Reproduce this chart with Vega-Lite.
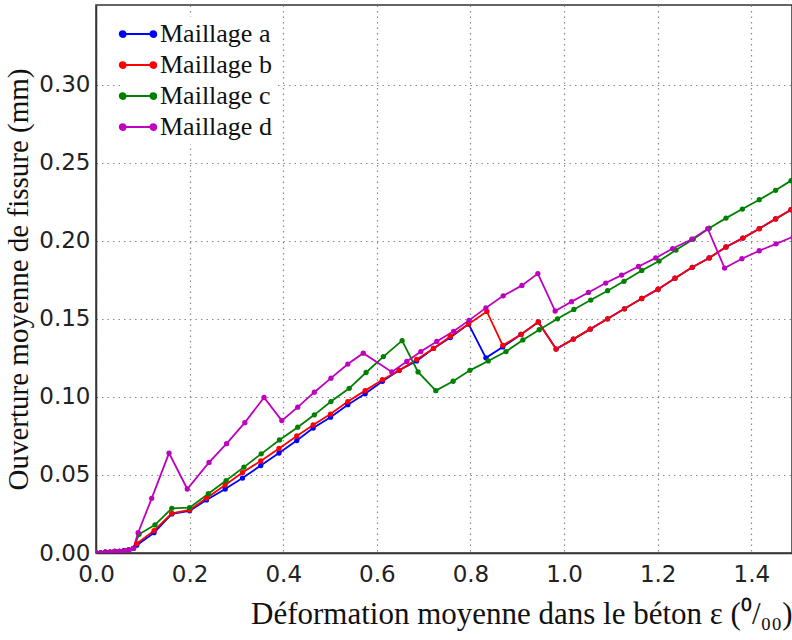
{
  "$schema": "https://vega.github.io/schema/vega-lite/v6.json",
  "width": 696,
  "height": 548,
  "autosize": {"type": "none"},
  "padding": {"left": 96, "top": 5, "right": 0, "bottom": 87},
  "background": "white",
  "config": {
    "view": {"stroke": "#333333", "strokeWidth": 1.5},
    "axis": {
      "labelFont": "DejaVu Sans",
      "labelFontSize": 23,
      "labelColor": "#222222",
      "labelFlush": false,
      "titleFont": "Liberation Serif",
      "titleFontWeight": "normal",
      "titleColor": "#111111",
      "grid": true,
      "gridColor": "#888888",
      "gridDash": [1.5, 4],
      "gridWidth": 1.2,
      "domainColor": "#333333",
      "domainWidth": 1.5,
      "ticks": false
    }
  },
  "data": {
    "values": [
      {"s": "Maillage a", "x": 0.0, "y": 0.0},
      {"s": "Maillage a", "x": 0.01, "y": 0.0},
      {"s": "Maillage a", "x": 0.02, "y": 0.0005},
      {"s": "Maillage a", "x": 0.03, "y": 0.0005},
      {"s": "Maillage a", "x": 0.04, "y": 0.001},
      {"s": "Maillage a", "x": 0.05, "y": 0.001},
      {"s": "Maillage a", "x": 0.06, "y": 0.0015},
      {"s": "Maillage a", "x": 0.07, "y": 0.002},
      {"s": "Maillage a", "x": 0.08, "y": 0.003},
      {"s": "Maillage a", "x": 0.087, "y": 0.005},
      {"s": "Maillage a", "x": 0.124, "y": 0.013},
      {"s": "Maillage a", "x": 0.162, "y": 0.025},
      {"s": "Maillage a", "x": 0.2, "y": 0.027},
      {"s": "Maillage a", "x": 0.236, "y": 0.034},
      {"s": "Maillage a", "x": 0.276, "y": 0.041},
      {"s": "Maillage a", "x": 0.313, "y": 0.048},
      {"s": "Maillage a", "x": 0.352, "y": 0.056},
      {"s": "Maillage a", "x": 0.391, "y": 0.064},
      {"s": "Maillage a", "x": 0.429, "y": 0.072},
      {"s": "Maillage a", "x": 0.464, "y": 0.08},
      {"s": "Maillage a", "x": 0.501, "y": 0.087},
      {"s": "Maillage a", "x": 0.538, "y": 0.095},
      {"s": "Maillage a", "x": 0.575, "y": 0.102},
      {"s": "Maillage a", "x": 0.612, "y": 0.11},
      {"s": "Maillage a", "x": 0.648, "y": 0.117},
      {"s": "Maillage a", "x": 0.685, "y": 0.123},
      {"s": "Maillage a", "x": 0.721, "y": 0.131},
      {"s": "Maillage a", "x": 0.757, "y": 0.138},
      {"s": "Maillage a", "x": 0.796, "y": 0.1466},
      {"s": "Maillage a", "x": 0.833, "y": 0.125},
      {"s": "Maillage a", "x": 0.869, "y": 0.132},
      {"s": "Maillage a", "x": 0.908, "y": 0.14},
      {"s": "Maillage a", "x": 0.945, "y": 0.148},
      {"s": "Maillage a", "x": 0.983, "y": 0.1306},
      {"s": "Maillage a", "x": 1.02, "y": 0.137},
      {"s": "Maillage a", "x": 1.056, "y": 0.1434},
      {"s": "Maillage a", "x": 1.093, "y": 0.15},
      {"s": "Maillage a", "x": 1.129, "y": 0.1564},
      {"s": "Maillage a", "x": 1.166, "y": 0.163},
      {"s": "Maillage a", "x": 1.201, "y": 0.169},
      {"s": "Maillage a", "x": 1.237, "y": 0.176},
      {"s": "Maillage a", "x": 1.274, "y": 0.183},
      {"s": "Maillage a", "x": 1.31, "y": 0.189},
      {"s": "Maillage a", "x": 1.346, "y": 0.196},
      {"s": "Maillage a", "x": 1.382, "y": 0.2017},
      {"s": "Maillage a", "x": 1.417, "y": 0.2077},
      {"s": "Maillage a", "x": 1.452, "y": 0.214},
      {"s": "Maillage a", "x": 1.485, "y": 0.2199},
      {"s": "Maillage a", "x": 1.52, "y": 0.226},
      {"s": "Maillage b", "x": 0.0, "y": 0.0},
      {"s": "Maillage b", "x": 0.01, "y": 0.0},
      {"s": "Maillage b", "x": 0.02, "y": 0.0005},
      {"s": "Maillage b", "x": 0.03, "y": 0.0005},
      {"s": "Maillage b", "x": 0.04, "y": 0.001},
      {"s": "Maillage b", "x": 0.05, "y": 0.001},
      {"s": "Maillage b", "x": 0.06, "y": 0.0015},
      {"s": "Maillage b", "x": 0.07, "y": 0.002},
      {"s": "Maillage b", "x": 0.08, "y": 0.003},
      {"s": "Maillage b", "x": 0.087, "y": 0.006},
      {"s": "Maillage b", "x": 0.124, "y": 0.0143},
      {"s": "Maillage b", "x": 0.162, "y": 0.0254},
      {"s": "Maillage b", "x": 0.2, "y": 0.0276},
      {"s": "Maillage b", "x": 0.236, "y": 0.035},
      {"s": "Maillage b", "x": 0.276, "y": 0.0436},
      {"s": "Maillage b", "x": 0.313, "y": 0.0515},
      {"s": "Maillage b", "x": 0.352, "y": 0.059},
      {"s": "Maillage b", "x": 0.391, "y": 0.067},
      {"s": "Maillage b", "x": 0.429, "y": 0.075},
      {"s": "Maillage b", "x": 0.464, "y": 0.082},
      {"s": "Maillage b", "x": 0.501, "y": 0.089},
      {"s": "Maillage b", "x": 0.538, "y": 0.097},
      {"s": "Maillage b", "x": 0.575, "y": 0.104},
      {"s": "Maillage b", "x": 0.612, "y": 0.111},
      {"s": "Maillage b", "x": 0.648, "y": 0.117},
      {"s": "Maillage b", "x": 0.685, "y": 0.124},
      {"s": "Maillage b", "x": 0.721, "y": 0.131},
      {"s": "Maillage b", "x": 0.757, "y": 0.1387},
      {"s": "Maillage b", "x": 0.796, "y": 0.1466},
      {"s": "Maillage b", "x": 0.835, "y": 0.1547},
      {"s": "Maillage b", "x": 0.869, "y": 0.133},
      {"s": "Maillage b", "x": 0.908, "y": 0.14},
      {"s": "Maillage b", "x": 0.945, "y": 0.148},
      {"s": "Maillage b", "x": 0.983, "y": 0.1306},
      {"s": "Maillage b", "x": 1.02, "y": 0.137},
      {"s": "Maillage b", "x": 1.056, "y": 0.1434},
      {"s": "Maillage b", "x": 1.093, "y": 0.15},
      {"s": "Maillage b", "x": 1.129, "y": 0.1564},
      {"s": "Maillage b", "x": 1.166, "y": 0.163},
      {"s": "Maillage b", "x": 1.201, "y": 0.169},
      {"s": "Maillage b", "x": 1.237, "y": 0.176},
      {"s": "Maillage b", "x": 1.274, "y": 0.183},
      {"s": "Maillage b", "x": 1.31, "y": 0.189},
      {"s": "Maillage b", "x": 1.346, "y": 0.196},
      {"s": "Maillage b", "x": 1.382, "y": 0.2017},
      {"s": "Maillage b", "x": 1.417, "y": 0.2077},
      {"s": "Maillage b", "x": 1.452, "y": 0.214},
      {"s": "Maillage b", "x": 1.485, "y": 0.2199},
      {"s": "Maillage b", "x": 1.52, "y": 0.226},
      {"s": "Maillage c", "x": 0.0, "y": 0.0},
      {"s": "Maillage c", "x": 0.01, "y": 0.0},
      {"s": "Maillage c", "x": 0.02, "y": 0.0005},
      {"s": "Maillage c", "x": 0.03, "y": 0.0005},
      {"s": "Maillage c", "x": 0.04, "y": 0.001},
      {"s": "Maillage c", "x": 0.05, "y": 0.001},
      {"s": "Maillage c", "x": 0.06, "y": 0.0015},
      {"s": "Maillage c", "x": 0.07, "y": 0.002},
      {"s": "Maillage c", "x": 0.08, "y": 0.003},
      {"s": "Maillage c", "x": 0.092, "y": 0.012},
      {"s": "Maillage c", "x": 0.126, "y": 0.018},
      {"s": "Maillage c", "x": 0.162, "y": 0.0286},
      {"s": "Maillage c", "x": 0.2, "y": 0.029},
      {"s": "Maillage c", "x": 0.24, "y": 0.038},
      {"s": "Maillage c", "x": 0.278, "y": 0.0464},
      {"s": "Maillage c", "x": 0.316, "y": 0.055},
      {"s": "Maillage c", "x": 0.353, "y": 0.0635},
      {"s": "Maillage c", "x": 0.392, "y": 0.0724},
      {"s": "Maillage c", "x": 0.431, "y": 0.0806},
      {"s": "Maillage c", "x": 0.4665, "y": 0.0885},
      {"s": "Maillage c", "x": 0.502, "y": 0.097},
      {"s": "Maillage c", "x": 0.541, "y": 0.1055},
      {"s": "Maillage c", "x": 0.577, "y": 0.1156},
      {"s": "Maillage c", "x": 0.614, "y": 0.1258},
      {"s": "Maillage c", "x": 0.654, "y": 0.136},
      {"s": "Maillage c", "x": 0.688, "y": 0.116},
      {"s": "Maillage c", "x": 0.726, "y": 0.104},
      {"s": "Maillage c", "x": 0.763, "y": 0.11},
      {"s": "Maillage c", "x": 0.799, "y": 0.117},
      {"s": "Maillage c", "x": 0.838, "y": 0.123},
      {"s": "Maillage c", "x": 0.876, "y": 0.129},
      {"s": "Maillage c", "x": 0.912, "y": 0.1365},
      {"s": "Maillage c", "x": 0.947, "y": 0.143},
      {"s": "Maillage c", "x": 0.986, "y": 0.15},
      {"s": "Maillage c", "x": 1.021, "y": 0.156},
      {"s": "Maillage c", "x": 1.057, "y": 0.162},
      {"s": "Maillage c", "x": 1.093, "y": 0.168},
      {"s": "Maillage c", "x": 1.128, "y": 0.174},
      {"s": "Maillage c", "x": 1.166, "y": 0.181},
      {"s": "Maillage c", "x": 1.203, "y": 0.187},
      {"s": "Maillage c", "x": 1.239, "y": 0.194},
      {"s": "Maillage c", "x": 1.276, "y": 0.201},
      {"s": "Maillage c", "x": 1.31, "y": 0.208},
      {"s": "Maillage c", "x": 1.346, "y": 0.2145},
      {"s": "Maillage c", "x": 1.381, "y": 0.2203},
      {"s": "Maillage c", "x": 1.417, "y": 0.2263},
      {"s": "Maillage c", "x": 1.452, "y": 0.2323},
      {"s": "Maillage c", "x": 1.485, "y": 0.2385},
      {"s": "Maillage c", "x": 1.52, "y": 0.244},
      {"s": "Maillage d", "x": 0.0, "y": 0.0},
      {"s": "Maillage d", "x": 0.01, "y": 0.0},
      {"s": "Maillage d", "x": 0.02, "y": 0.0005},
      {"s": "Maillage d", "x": 0.03, "y": 0.0005},
      {"s": "Maillage d", "x": 0.04, "y": 0.001},
      {"s": "Maillage d", "x": 0.05, "y": 0.001},
      {"s": "Maillage d", "x": 0.06, "y": 0.0015},
      {"s": "Maillage d", "x": 0.07, "y": 0.002},
      {"s": "Maillage d", "x": 0.08, "y": 0.003},
      {"s": "Maillage d", "x": 0.09, "y": 0.013},
      {"s": "Maillage d", "x": 0.119, "y": 0.035},
      {"s": "Maillage d", "x": 0.156, "y": 0.064},
      {"s": "Maillage d", "x": 0.195, "y": 0.041},
      {"s": "Maillage d", "x": 0.2415, "y": 0.058},
      {"s": "Maillage d", "x": 0.279, "y": 0.07},
      {"s": "Maillage d", "x": 0.318, "y": 0.0835},
      {"s": "Maillage d", "x": 0.359, "y": 0.0996},
      {"s": "Maillage d", "x": 0.397, "y": 0.0848},
      {"s": "Maillage d", "x": 0.431, "y": 0.0934},
      {"s": "Maillage d", "x": 0.4665, "y": 0.103},
      {"s": "Maillage d", "x": 0.502, "y": 0.112},
      {"s": "Maillage d", "x": 0.538, "y": 0.121},
      {"s": "Maillage d", "x": 0.571, "y": 0.128},
      {"s": "Maillage d", "x": 0.632, "y": 0.116},
      {"s": "Maillage d", "x": 0.664, "y": 0.1227},
      {"s": "Maillage d", "x": 0.694, "y": 0.129},
      {"s": "Maillage d", "x": 0.728, "y": 0.1355},
      {"s": "Maillage d", "x": 0.764, "y": 0.142},
      {"s": "Maillage d", "x": 0.797, "y": 0.149},
      {"s": "Maillage d", "x": 0.833, "y": 0.157},
      {"s": "Maillage d", "x": 0.87, "y": 0.1647},
      {"s": "Maillage d", "x": 0.91, "y": 0.1714},
      {"s": "Maillage d", "x": 0.944, "y": 0.179},
      {"s": "Maillage d", "x": 0.981, "y": 0.155},
      {"s": "Maillage d", "x": 1.016, "y": 0.161},
      {"s": "Maillage d", "x": 1.052, "y": 0.1669},
      {"s": "Maillage d", "x": 1.089, "y": 0.1729},
      {"s": "Maillage d", "x": 1.123, "y": 0.178},
      {"s": "Maillage d", "x": 1.159, "y": 0.1835},
      {"s": "Maillage d", "x": 1.196, "y": 0.189},
      {"s": "Maillage d", "x": 1.232, "y": 0.195},
      {"s": "Maillage d", "x": 1.273, "y": 0.201},
      {"s": "Maillage d", "x": 1.307, "y": 0.2077},
      {"s": "Maillage d", "x": 1.343, "y": 0.1825},
      {"s": "Maillage d", "x": 1.38, "y": 0.1885},
      {"s": "Maillage d", "x": 1.417, "y": 0.1936},
      {"s": "Maillage d", "x": 1.453, "y": 0.198},
      {"s": "Maillage d", "x": 1.49, "y": 0.2027}
    ]
  },
  "mark": {"type": "line", "strokeWidth": 1.8, "clip": true, "point": {"filled": true, "size": 28}},
  "encoding": {
    "x": {
      "field": "x",
      "type": "quantitative",
      "scale": {"domain": [0, 1.487], "nice": false, "zero": false},
      "axis": {
        "values": [0, 0.2, 0.4, 0.6, 0.8, 1.0, 1.2, 1.4],
        "format": ".1f",
        "labelPadding": 10,
        "title": "Déformation moyenne dans le béton ε (⁰/₀₀)",
        "titleFontSize": 31,
        "titleAnchor": "end",
        "titlePadding": 13
      }
    },
    "y": {
      "field": "y",
      "type": "quantitative",
      "scale": {"domain": [0, 0.351], "nice": false},
      "axis": {
        "values": [0, 0.05, 0.1, 0.15, 0.2, 0.25, 0.3],
        "format": ".2f",
        "labelPadding": 6,
        "title": "Ouverture moyenne de fissure (mm)",
        "titleFontSize": 29,
        "titlePadding": 5
      }
    },
    "color": {
      "field": "s",
      "type": "nominal",
      "scale": {
        "domain": ["Maillage a", "Maillage b", "Maillage c", "Maillage d"],
        "range": ["#0000ff", "#ff0000", "#008000", "#bf00bf"]
      },
      "legend": {
        "title": null,
        "orient": "none",
        "legendX": 25,
        "legendY": 12,
        "padding": 4,
        "fillColor": "white",
        "strokeColor": null,
        "labelFont": "Liberation Serif",
        "labelFontSize": 26,
        "labelColor": "#111111",
        "labelOffset": 9,
        "rowPadding": 5,
        "symbolType": "M-1.8,0H1.8M-2.15,0a0.35,0.35 0 1,0 0.7,0a0.35,0.35 0 1,0 -0.7,0M1.45,0a0.35,0.35 0 1,0 0.7,0a0.35,0.35 0 1,0 -0.7,0",
        "symbolSize": 289,
        "symbolStrokeWidth": 1.8
      }
    }
  }
}
